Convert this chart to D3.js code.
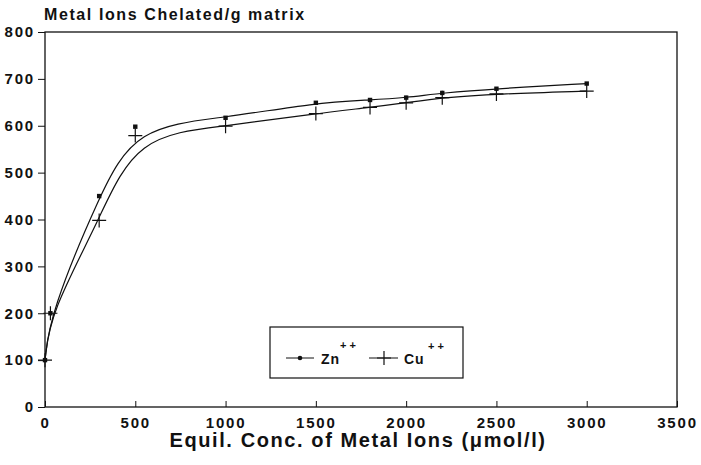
<!DOCTYPE html>
<html lang="en">
<head>
  <meta charset="UTF-8">
  <title>Metal Ions Chelated</title>
  <script src="https://d3js.org/d3.v7.min.js"></script>
  <style>
    body { margin: 0; background: #fff; }
    text { font-family: "Liberation Sans", Arial, sans-serif; font-weight: bold; fill: #111; }
  </style>
</head>
<body>
  <svg id="chart" width="701" height="465"></svg>
  <script>
    // readings taken off the figure
    const znX = [0, 30, 300, 500, 1000, 1500, 1800, 2000, 2200, 2500, 3000];
    const znY = [100, 200, 450, 598, 617, 649, 655, 660, 670, 679, 690];
    const cuX = [0, 30, 300, 500, 1000, 1500, 1800, 2000, 2200, 2500, 3000];
    const cuY = [100, 200, 398, 579, 599, 626, 639, 649, 660, 668, 674];
    const xTicks = [0, 500, 1000, 1500, 2000, 2500, 3000, 3500];
    const yTicks = [0, 100, 200, 300, 400, 500, 600, 700, 800];

    const svg = d3.select("#chart");
    const mLeft = 45, mRight = 677, mTop = 32, mBottom = 407;

    const x = d3.scaleLinear().domain([0, 3500]).range([mLeft, mRight]);
    const y = d3.scaleLinear().domain([0, 800]).range([mBottom, mTop]);

    // frame
    svg.append("rect")
      .attr("x", mLeft).attr("y", mTop)
      .attr("width", mRight - mLeft).attr("height", mBottom - mTop)
      .attr("fill", "none").attr("stroke", "#111").attr("stroke-width", 1.3);

    const styleTicks = g => g.selectAll("text")
      .style("font-size", "15px").style("letter-spacing", "1.8px")
      .style("font-family", "Liberation Sans, Arial, sans-serif").style("font-weight", "bold")
      .attr("fill", "#111");

    // y axis
    const yAxis = svg.append("g")
      .attr("transform", `translate(${mLeft},0)`)
      .call(d3.axisLeft(y).tickValues(yTicks).tickFormat(d3.format("d")).tickSize(7).tickPadding(3));
    yAxis.select(".domain").remove();
    yAxis.selectAll("line").attr("stroke", "#111");
    styleTicks(yAxis);

    // x axis, ticks pointing inward
    const xAxis = svg.append("g")
      .attr("transform", `translate(0,${mBottom})`)
      .call(d3.axisBottom(x).tickValues(xTicks).tickFormat(d3.format("d")).tickSizeInner(-6).tickSizeOuter(0).tickPadding(10));
    xAxis.select(".domain").remove();
    xAxis.selectAll("line").attr("stroke", "#111");
    styleTicks(xAxis);

    svg.append("text").attr("x", 44).attr("y", 20).style("font-size", "16px").style("letter-spacing", "1.6px")
      .text("Metal Ions Chelated/g matrix");
    svg.append("text").attr("x", 358).attr("y", 447).attr("text-anchor", "middle")
      .style("font-size", "20px").style("letter-spacing", "1.6px")
      .text("Equil. Conc. of Metal Ions (\u03bcmol/l)");

    const line = d3.line().curve(d3.curveBasis);
    const znPts = znX.map((v, i) => [x(v), y(znY[i])]);
    const cuPts = cuX.map((v, i) => [x(v), y(cuY[i])]);

    svg.append("path").attr("d", line(znPts)).attr("fill", "none").attr("stroke", "#111").attr("stroke-width", 1.2);
    svg.append("path").attr("d", line(cuPts)).attr("fill", "none").attr("stroke", "#111").attr("stroke-width", 1.2);

    // Zn markers: small dots
    svg.append("g").selectAll("rect").data(znPts).enter().append("rect")
      .attr("x", d => d[0] - 2.2).attr("y", d => d[1] - 2.2)
      .attr("width", 4.4).attr("height", 4.4).attr("fill", "#111");

    // Cu markers: plus signs
    const plus = (cx, cy, s) => `M${cx - s},${cy}H${cx + s}M${cx},${cy - s}V${cy + s}`;
    svg.append("g").selectAll("path").data(cuPts).enter().append("path")
      .attr("d", d => plus(d[0], d[1], 7))
      .attr("stroke", "#111").attr("stroke-width", 1.2);

    // legend
    const lg = svg.append("g");
    lg.append("rect").attr("x", 270).attr("y", 327).attr("width", 193).attr("height", 51)
      .attr("fill", "#fff").attr("stroke", "#111").attr("stroke-width", 1.2);
    lg.append("line").attr("x1", 286).attr("x2", 314).attr("y1", 358).attr("y2", 358).attr("stroke", "#111");
    lg.append("circle").attr("cx", 300).attr("cy", 358).attr("r", 2.3).attr("fill", "#111");
    lg.append("text").attr("x", 321).attr("y", 364).style("font-size", "14px").style("letter-spacing", "1px").text("Zn");
    lg.append("text").attr("x", 340).attr("y", 349).style("font-size", "11px").text("+ +");
    lg.append("line").attr("x1", 369).attr("x2", 398).attr("y1", 358).attr("y2", 358).attr("stroke", "#111");
    lg.append("path").attr("d", plus(384, 358, 7)).attr("stroke", "#111").attr("stroke-width", 1.2);
    lg.append("text").attr("x", 404).attr("y", 364).style("font-size", "14px").style("letter-spacing", "1px").text("Cu");
    lg.append("text").attr("x", 428).attr("y", 350).style("font-size", "11px").text("+ +");
  </script>
</body>
</html>
